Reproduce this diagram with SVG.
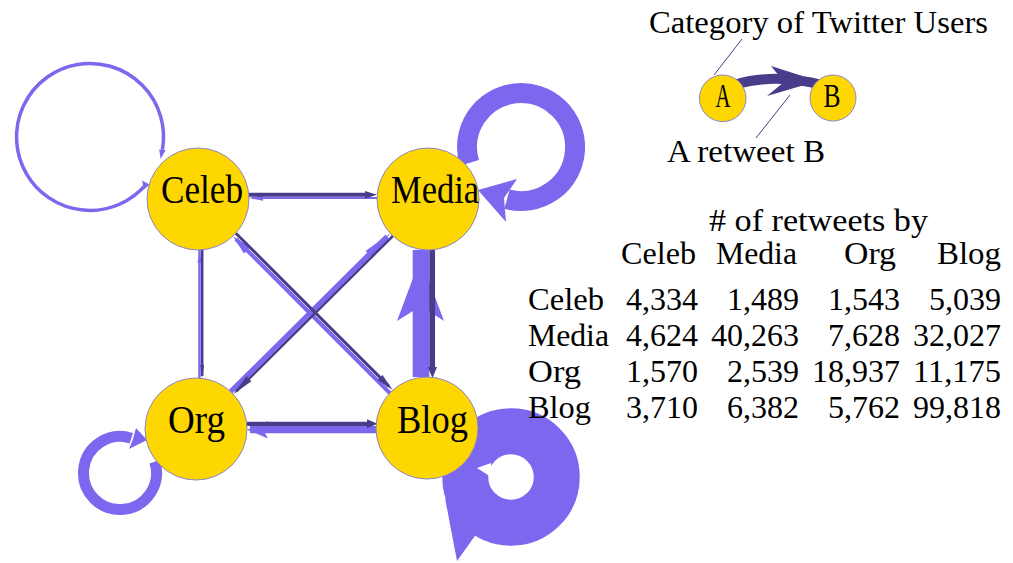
<svg xmlns="http://www.w3.org/2000/svg" width="1013" height="563" viewBox="0 0 1013 563">
<style>
.lt{fill:#7B68EE}
.dk{fill:#483D8B}
.el{stroke:#7B68EE;fill:none}
.ed{stroke:#483D8B;fill:none}
.node{fill:#FFD700;stroke:#8F84C8;stroke-width:1}
text{font-family:"Liberation Serif","Times New Roman",serif;fill:#000}
.nl{font-size:39px}
.tb{font-size:32.5px}
.lg{font-size:34px}
.lead{stroke:#483D8B;stroke-width:1;fill:none}
</style>
<rect width="1013" height="563" fill="#ffffff"/>
<g id="connectors">
  <!-- self loops -->
  <path class="el" stroke-width="3.5" d="M146.3,184.2 A73.5,73.5 0 1 1 162.4,149.8"/>
  <polygon class="lt" points="160.6,159 165.6,150.3 159.2,149.2"/>
  <polygon class="lt" points="149.5,184.5 142,180.5 144,189.5"/>
  <path class="el" stroke-width="20" d="M469.4,162.8 A54,54 0 1 1 507,199.2"/>
  <polygon class="lt" points="478,190 517,179 504,198 506,222"/>
  <path class="el" stroke-width="11" d="M154.7,461.7 A36.5,36.5 0 1 1 131.3,438.3"/>
  <polygon class="lt" points="147,440 136,428 133,439 129,449"/>
  <circle class="el" cx="511" cy="477" r="45.75" stroke-width="46"/>
  <polygon class="lt" points="445,498 457,561 477,533"/>
  <polygon fill="#ffffff" points="477,468 491,463 491,477"/>
  <!-- light edges -->
  <line class="el" stroke-width="2.2" x1="377" y1="198" x2="252" y2="198"/>
  <polygon class="lt" points="249,198 263,195.2 263,200.8"/>
  <line class="el" stroke-width="2.5" x1="199.5" y1="378" x2="199.5" y2="250"/>
  <polygon class="lt" points="199.5,250 197.6,263 201.4,263"/>
  <line class="el" stroke-width="7.3" x1="377" y1="429.7" x2="250" y2="429.7"/>
  <polygon class="lt" points="247,429.7 268,421 263,429.7 268,438.4"/>
  <line class="el" stroke-width="16.6" x1="421" y1="377" x2="421" y2="250"/>
  <polygon class="lt" points="420.5,258 444,321 421,306 397,321"/>
  <line class="el" stroke-width="4" x1="389.8" y1="393" x2="236" y2="239.2"/>
  <polygon class="lt" points="233,236.2 250.3,247.1 243.9,253.5"/>
  <line class="el" stroke-width="5" x1="230.7" y1="391.5" x2="387" y2="236.6"/>
  <polygon class="lt" points="390.3,233.3 365.5,250.9 372.5,258"/>
  <!-- dark edges -->
  <line class="ed" stroke-width="4" x1="249" y1="194.7" x2="368" y2="194.7"/>
  <polygon class="dk" points="377,194.7 365,191 365,198.4"/>
  <line class="ed" stroke-width="2.5" x1="202.2" y1="250" x2="202.2" y2="376"/>
  <polygon class="dk" points="202.2,378 200.3,365 204.1,365"/>
  <line class="ed" stroke-width="4.3" x1="247" y1="423.8" x2="370" y2="423.8"/>
  <polygon class="dk" points="377.5,423.8 367,419.3 367,428.3"/>
  <line class="ed" stroke-width="5.7" x1="432.2" y1="250" x2="432.2" y2="370"/>
  <polygon class="dk" points="432.5,378 427.7,367 437,367"/>
  <line class="ed" stroke-width="3" x1="235.9" y1="233.3" x2="389" y2="386.4"/>
  <polygon class="dk" points="392.7,390.1 382.5,374.9 377.5,379.9"/>
  <line class="ed" stroke-width="2.5" x1="392.9" y1="236" x2="236" y2="391.5"/>
  <polygon class="dk" points="233.3,394.2 246.4,376.2 251.4,381.2"/>
</g>
<g id="node-celeb">
  <circle class="node" cx="198" cy="199" r="51"/>
  <text class="nl" x="161" y="203" textLength="82" lengthAdjust="spacingAndGlyphs">Celeb</text>
</g>
<g id="node-media">
  <circle class="node" cx="428" cy="199" r="51"/>
  <text class="nl" x="391" y="203" textLength="88" lengthAdjust="spacingAndGlyphs">Media</text>
</g>
<g id="node-org">
  <circle class="node" cx="196" cy="429" r="51"/>
  <text class="nl" x="168" y="433" textLength="57" lengthAdjust="spacingAndGlyphs">Org</text>
</g>
<g id="node-blog">
  <circle class="node" cx="427" cy="428" r="51"/>
  <text class="nl" x="397" y="433" textLength="71" lengthAdjust="spacingAndGlyphs">Blog</text>
</g>
<g id="legend">
  <text class="tb" x="649" y="33" textLength="339" lengthAdjust="spacingAndGlyphs">Category of Twitter Users</text>
  <line class="lead" x1="742" y1="39" x2="714" y2="75"/>
  <path class="ed" stroke-width="10" d="M737,84 C760,77 792,77 822,85"/>
  <polygon class="dk" points="771,66 818,81 767,96 784,82"/>
  <circle class="node" cx="722.7" cy="98.3" r="23.3"/>
  <text class="lg" x="715.5" y="107" textLength="15" lengthAdjust="spacingAndGlyphs">A</text>
  <circle class="node" cx="833" cy="98" r="23"/>
  <text class="lg" x="823.5" y="107" textLength="17" lengthAdjust="spacingAndGlyphs">B</text>
  <line class="lead" x1="790" y1="95" x2="756" y2="138"/>
  <text class="tb" x="667" y="162" textLength="158" lengthAdjust="spacingAndGlyphs">A retweet B</text>
</g>
<g id="table">
  <text class="tb" x="709" y="231" textLength="219" lengthAdjust="spacingAndGlyphs"># of retweets by</text>
  <text class="tb" x="621" y="264" textLength="75" lengthAdjust="spacingAndGlyphs">Celeb</text>
  <text class="tb" x="716" y="264" textLength="81" lengthAdjust="spacingAndGlyphs">Media</text>
  <text class="tb" x="844" y="264" textLength="52" lengthAdjust="spacingAndGlyphs">Org</text>
  <text class="tb" x="937" y="264" textLength="64" lengthAdjust="spacingAndGlyphs">Blog</text>

  <text class="tb" x="528" y="310" textLength="76" lengthAdjust="spacingAndGlyphs">Celeb</text>
  <text class="tb" x="626" y="310" textLength="72" lengthAdjust="spacingAndGlyphs">4,334</text>
  <text class="tb" x="727" y="310" textLength="72" lengthAdjust="spacingAndGlyphs">1,489</text>
  <text class="tb" x="828" y="310" textLength="72" lengthAdjust="spacingAndGlyphs">1,543</text>
  <text class="tb" x="929" y="310" textLength="72" lengthAdjust="spacingAndGlyphs">5,039</text>

  <text class="tb" x="528" y="346" textLength="81" lengthAdjust="spacingAndGlyphs">Media</text>
  <text class="tb" x="626" y="346" textLength="72" lengthAdjust="spacingAndGlyphs">4,624</text>
  <text class="tb" x="711" y="346" textLength="88" lengthAdjust="spacingAndGlyphs">40,263</text>
  <text class="tb" x="828" y="346" textLength="72" lengthAdjust="spacingAndGlyphs">7,628</text>
  <text class="tb" x="913" y="346" textLength="88" lengthAdjust="spacingAndGlyphs">32,027</text>

  <text class="tb" x="528" y="382" textLength="53" lengthAdjust="spacingAndGlyphs">Org</text>
  <text class="tb" x="626" y="382" textLength="72" lengthAdjust="spacingAndGlyphs">1,570</text>
  <text class="tb" x="727" y="382" textLength="72" lengthAdjust="spacingAndGlyphs">2,539</text>
  <text class="tb" x="812" y="382" textLength="88" lengthAdjust="spacingAndGlyphs">18,937</text>
  <text class="tb" x="913" y="382" textLength="88" lengthAdjust="spacingAndGlyphs">11,175</text>

  <text class="tb" x="528" y="418" textLength="63" lengthAdjust="spacingAndGlyphs">Blog</text>
  <text class="tb" x="626" y="418" textLength="72" lengthAdjust="spacingAndGlyphs">3,710</text>
  <text class="tb" x="727" y="418" textLength="72" lengthAdjust="spacingAndGlyphs">6,382</text>
  <text class="tb" x="828" y="418" textLength="72" lengthAdjust="spacingAndGlyphs">5,762</text>
  <text class="tb" x="913" y="418" textLength="88" lengthAdjust="spacingAndGlyphs">99,818</text>
</g>
</svg>
